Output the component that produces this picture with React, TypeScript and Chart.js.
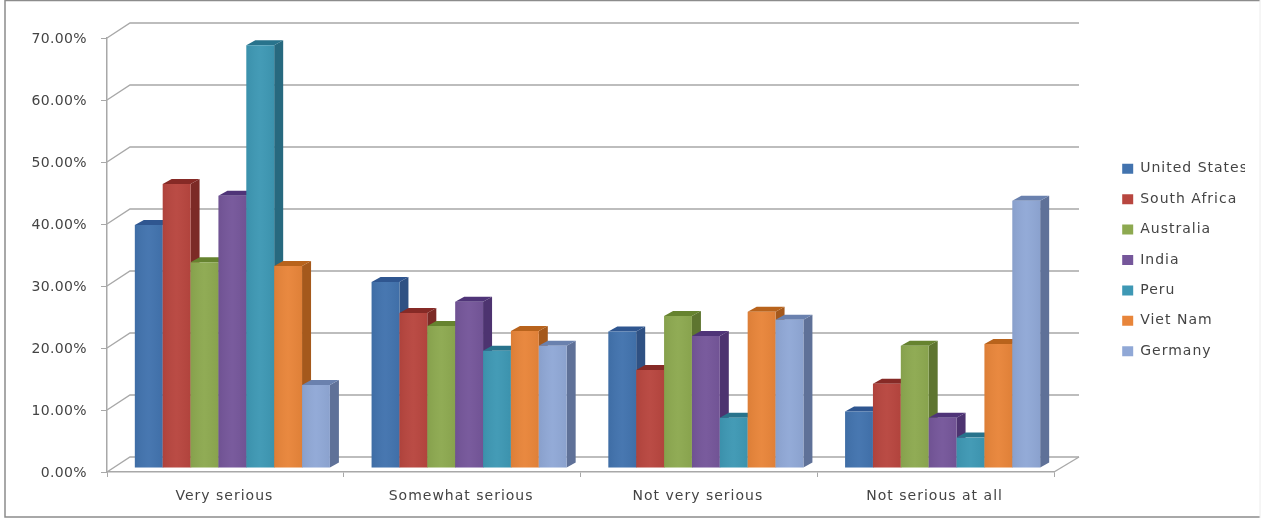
import React, { useEffect, useRef } from "react";
import { Chart, registerables } from "chart.js";

Chart.register(...registerables);

const categories = ["Very serious", "Somewhat serious", "Not very serious", "Not serious at all"];
const unitedStates = [39.2, 30.0, 22.0, 9.1];
const southAfrica = [45.8, 25.0, 15.8, 13.6];
const australia = [33.2, 22.9, 24.5, 19.7];
const india = [43.9, 26.8, 21.3, 8.1];
const peru = [68.2, 18.9, 8.1, 4.9];
const vietNam = [32.6, 22.1, 25.2, 20.0];
const germany = [13.4, 19.7, 23.9, 43.1];

const seriesNames = ["United States", "South Africa", "Australia", "India", "Peru", "Viet Nam", "Germany"];
const seriesValues = [unitedStates, southAfrica, australia, india, peru, vietNam, germany];
const frontColors = ["#4273AE", "#B8463F", "#8DA950", "#75569A", "#3E98B4", "#E8853A", "#90A8D6"];
const sideColors = ["#2F5183", "#7C2A26", "#5E7530", "#4D3370", "#27697F", "#A5591C", "#5F7198"];
const topColors = ["#2F5690", "#862A26", "#66832F", "#4F3478", "#28738C", "#B8631C", "#6A81AE"];

const FONT = "'DejaVu Sans'";
const TEXT = "#444444";
const GRID = "#a8a8a8";
const WALL_DX = 23;
const WALL_DY = 15;
const BAR_SHIFT_X = 7;
const BAR_SHIFT_Y = 4;
const DEPTH_X = 9;
const DEPTH_Y = 5;

const poly = (ctx: CanvasRenderingContext2D, pts: number[][], color: string) => {
  ctx.fillStyle = color;
  ctx.beginPath();
  pts.forEach((p, i) => (i ? ctx.lineTo(p[0], p[1]) : ctx.moveTo(p[0], p[1])));
  ctx.closePath();
  ctx.fill();
};

// Runs a drawing method of a box with a small text shift and letter spacing.
const wrapText = (box: any, method: string, dx: number, dy: number, spacing: string) => {
  if (box["__wrapped" + method]) return;
  box["__wrapped" + method] = true;
  const original = box[method];
  box[method] = function (...args: any[]) {
    const ctx = box.ctx;
    ctx.save();
    ctx.translate(dx, dy);
    ctx.letterSpacing = spacing;
    original.apply(box, args);
    ctx.restore();
  };
};

const frame3d = {
  id: "frame3d",
  afterLayout(chart: any) {
    wrapText(chart.scales.y, "drawLabels", 0, 1.5, "0.35px");
    wrapText(chart.scales.x, "drawLabels", -1, 0, "1px");
    wrapText(chart.legend, "draw", -1, 1, "1px");
  },
  beforeDraw(chart: any) {
    const { ctx, width, height } = chart;
    ctx.save();
    ctx.fillStyle = "#ffffff";
    ctx.fillRect(0, 0, width, height);
    ctx.strokeStyle = "#8c8c8c";
    ctx.lineWidth = 1.5;
    ctx.beginPath();
    ctx.moveTo(width - 5, 0.5);
    ctx.lineTo(5, 0.5);
    ctx.lineTo(5, height - 1);
    ctx.lineTo(width - 5, height - 1);
    ctx.stroke();
    ctx.strokeStyle = "#ececec";
    ctx.lineWidth = 1;
    ctx.beginPath();
    ctx.moveTo(width - 5, 0);
    ctx.lineTo(width - 5, height);
    ctx.stroke();
    ctx.restore();
  },
  beforeDatasetsDraw(chart: any) {
    const { ctx, chartArea, scales } = chart;
    const { left, right, bottom } = chartArea;
    ctx.save();
    ctx.strokeStyle = GRID;
    ctx.lineWidth = 1.4;
    for (const tick of scales.y.ticks) {
      const y = scales.y.getPixelForValue(tick.value);
      ctx.beginPath();
      ctx.moveTo(left, y);
      ctx.lineTo(left + WALL_DX, y - WALL_DY);
      ctx.lineTo(right + WALL_DX + 2, y - WALL_DY);
      ctx.stroke();
    }
    ctx.beginPath();
    ctx.moveTo(right, bottom);
    ctx.lineTo(right + WALL_DX + 2, bottom - WALL_DY);
    ctx.stroke();
    ctx.translate(BAR_SHIFT_X, -BAR_SHIFT_Y);
    chart.data.datasets.forEach((_: any, di: number) => {
      const meta = chart.getDatasetMeta(di);
      meta.data.forEach((bar: any) => {
        const l = bar.x - bar.width / 2;
        const r = bar.x + bar.width / 2;
        poly(ctx, [[r, bar.y], [r + DEPTH_X, bar.y - DEPTH_Y], [r + DEPTH_X, bar.base - DEPTH_Y], [r, bar.base]], sideColors[di]);
        poly(ctx, [[l, bar.y], [l + DEPTH_X, bar.y - DEPTH_Y], [r + DEPTH_X, bar.y - DEPTH_Y], [r, bar.y]], topColors[di]);
        bar.draw(ctx);
        const g = ctx.createLinearGradient(l, 0, r, 0);
        g.addColorStop(0, "rgba(0,0,0,0.05)");
        g.addColorStop(0.5, "rgba(255,255,255,0.03)");
        g.addColorStop(1, "rgba(0,0,0,0.04)");
        ctx.fillStyle = g;
        ctx.fillRect(l, bar.y, bar.width, bar.base - bar.y);
      });
    });
    ctx.restore();
    return false;
  },
};

export default function App() {
  const ref = useRef<HTMLCanvasElement>(null);
  useEffect(() => {
    const chart = new Chart(ref.current!, {
      type: "bar",
      data: {
        labels: categories,
        datasets: seriesNames.map((name, i) => ({
          label: name,
          data: seriesValues[i],
          backgroundColor: frontColors[i],
          borderWidth: 0,
          xAxisID: "x",
          yAxisID: "y",
          categoryPercentage: 0.824,
          barPercentage: 1,
        })),
      },
      options: {
        animation: false,
        responsive: false,
        devicePixelRatio: 1,
        layout: { padding: { left: 0, right: 19, top: 0, bottom: 0 } },
        plugins: {
          tooltip: { enabled: false },
          legend: {
            position: "right",
            labels: {
              boxWidth: 11,
              boxHeight: 10,
              padding: 16.4,
              color: TEXT,
              font: { family: FONT, size: 14 },
            },
          },
        },
        scales: {
          x: {
            type: "category",
            position: "bottom",
            afterFit: (s: any) => { s.height = 46; },
            grid: { drawOnChartArea: false, offset: true, tickLength: 5, color: GRID },
            border: { color: GRID, width: 1.5 },
            ticks: { color: TEXT, padding: 11, maxRotation: 0, font: { family: FONT, size: 14 } },
          },
          y: {
            type: "linear",
            position: "left",
            min: 0,
            max: 70,
            afterFit: (s: any) => { s.width = 107; },
            grid: { drawOnChartArea: false, tickLength: 6, color: GRID },
            border: { color: GRID, width: 1.5 },
            ticks: {
              stepSize: 10,
              padding: 14,
              color: TEXT,
              font: { family: FONT, size: 14 },
              callback: (v: any) => Number(v).toFixed(2) + "%",
            },
          },
          topSpacer: {
            type: "linear",
            axis: "x",
            position: "top",
            afterFit: (s: any) => { s.height = 38; },
            grid: { display: false },
            border: { display: false },
            ticks: { display: false },
          },
          rightSpacer: {
            type: "linear",
            axis: "y",
            position: "right",
            afterFit: (s: any) => { s.width = 1265 - 1054 - 19 - s.chart.legend.width; },
            grid: { display: false },
            border: { display: false },
            ticks: { display: false },
          },
        },
      } as any,
      plugins: [frame3d],
    });
    return () => chart.destroy();
  }, []);
  return (
    <div style={{ position: "fixed", left: 0, top: 0, width: 1265, height: 518 }}>
      <canvas ref={ref} width={1265} height={518} style={{ display: "block" }} />
    </div>
  );
}
